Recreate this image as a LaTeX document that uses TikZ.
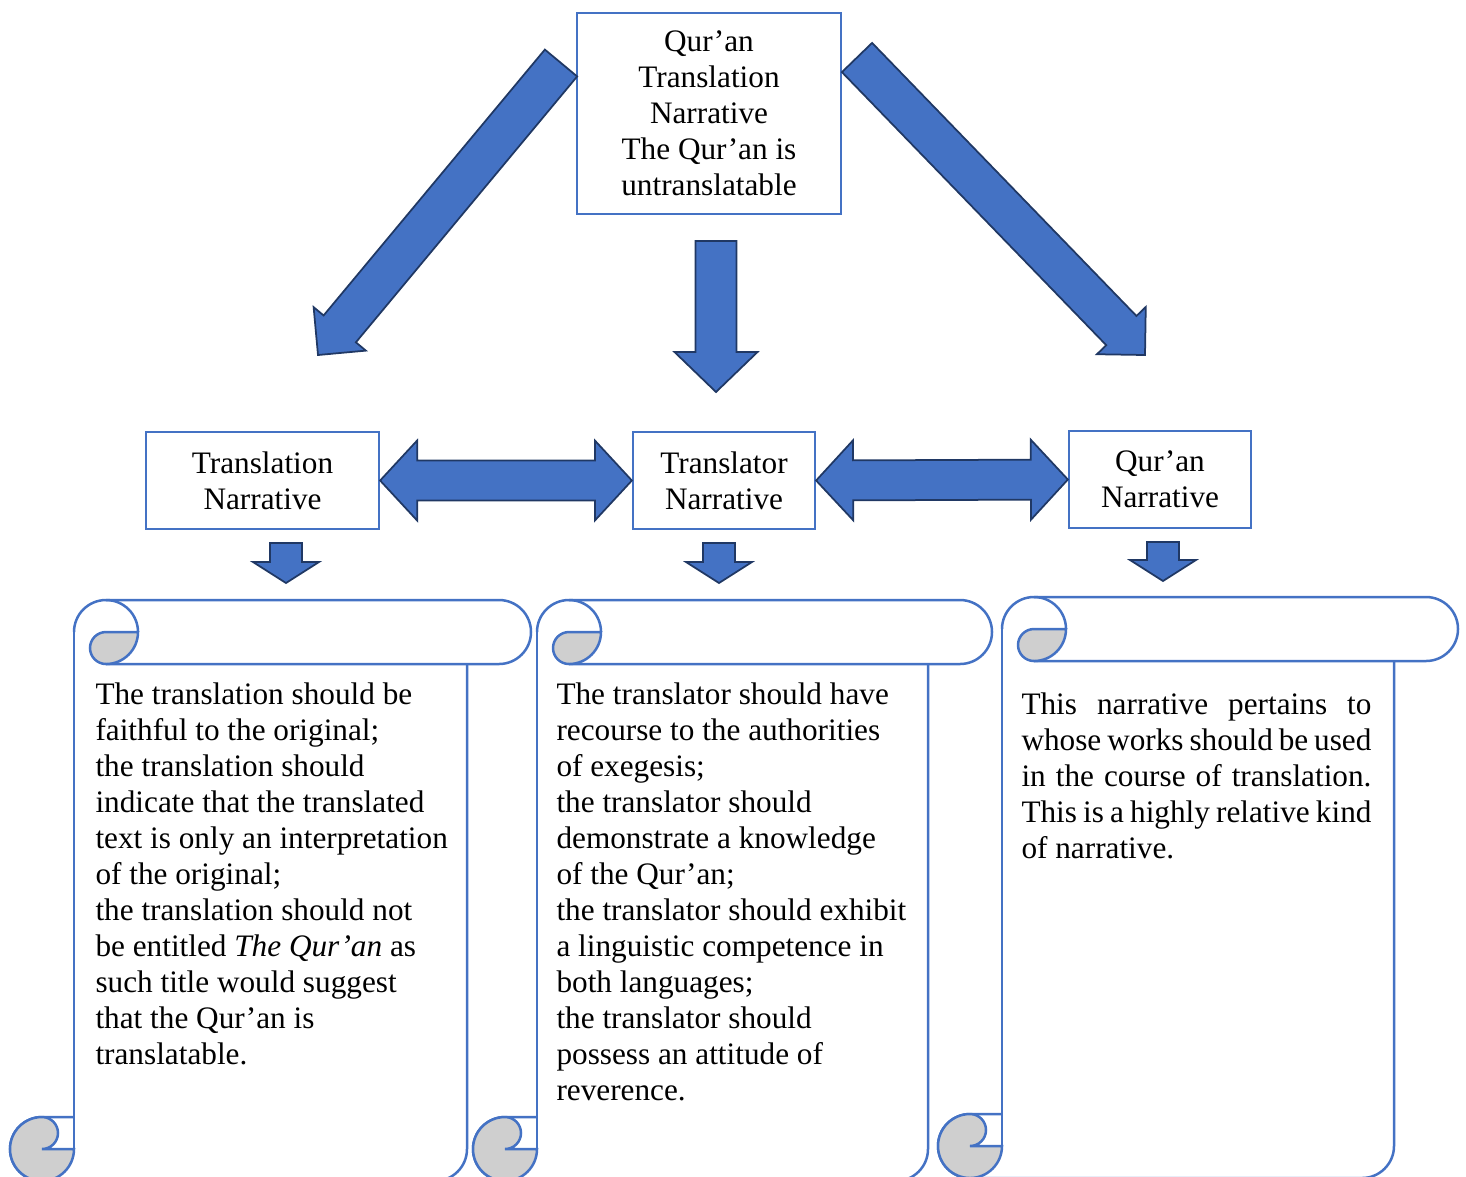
\documentclass[tikz,border=0pt]{standalone}
\usepackage{fontspec}
\setmainfont{Liberation Serif}
\usetikzlibrary{calc}

\definecolor{boxblue}{HTML}{4472C4}
\definecolor{arrowedge}{HTML}{203864}
\definecolor{rollgrey}{HTML}{CFCFCF}
\newcommand{\narrfont}{\fontsize{12.5}{14.4}\selectfont}

\tikzset{
  box/.style={draw=boxblue,line width=0.9pt,align=center,inner sep=0pt,font=\narrfont},
  barrow/.style={fill=boxblue,draw=arrowedge,line width=0.7pt,line join=miter},
  roll/.style={draw=boxblue,line width=1pt},
  rolltext/.style={anchor=north west,inner sep=0pt,align=left,font=\narrfont}
}

% block arrow: from, to, half shaft, half head, head length
\newcommand{\blockarrow}[5]{%
  \coordinate (ba-h) at ($(#2)!#5!(#1)$);
  \draw[barrow] ($(#1)!#3!90:(#2)$) -- ($(ba-h)!#3!90:(#2)$) -- ($(ba-h)!#4!90:(#2)$) -- (#2)
    -- ($(ba-h)!#4!-90:(#2)$) -- ($(ba-h)!#3!-90:(#2)$) -- ($(#1)!#3!-90:(#2)$) -- cycle;}
% double block arrow
\newcommand{\dblarrow}[5]{%
  \coordinate (da-a) at ($(#1)!#5!(#2)$);
  \coordinate (da-b) at ($(#2)!#5!(#1)$);
  \draw[barrow] (#1) -- ($(da-a)!#4!90:(#2)$) -- ($(da-a)!#3!90:(#2)$) -- ($(da-b)!#3!90:(#2)$)
    -- ($(da-b)!#4!90:(#2)$) -- (#2) -- ($(da-b)!#4!-90:(#2)$) -- ($(da-b)!#3!-90:(#2)$)
    -- ($(da-a)!#3!-90:(#2)$) -- ($(da-a)!#4!-90:(#2)$) -- cycle;}
% vertical scroll: left, right, top, bottom
\newcommand{\scrollshape}[4]{%
  \draw[roll] (#1+64,#3+32) arc[start angle=180,end angle=270,radius=32] -- (#2-32,#3)
    arc[start angle=-90,end angle=90,radius=32] -- (#1+96,#3+64);
  \draw[roll] (#1+96,#3) arc[start angle=-90,end angle=0,radius=32];
  \draw[roll] (#2-64,#3+64) -- (#2-64,#4-32) arc[start angle=0,end angle=90,radius=32]
    -- (#1+32,#4) arc[start angle=90,end angle=270,radius=32] -- (#1+64,#4-64);
  \draw[roll] (#1+64,#3+32) -- (#1+64,#4-32);
  \filldraw[roll,fill=rollgrey] (#1+96,#3+64) arc[start angle=90,end angle=270,radius=16]
    -- (#1+128,#3+32) arc[start angle=0,end angle=90,radius=32] -- cycle;
  \filldraw[roll,fill=rollgrey] (#1+64,#4-32) arc[start angle=0,end angle=270,radius=32]
    arc[start angle=-90,end angle=90,radius=16] -- cycle;}

\begin{document}
\begin{tikzpicture}[x=0.4pt,y=-0.4pt]
\clip (0,0) rectangle (1466,1176);

% narrative boxes
\node[box,minimum width=105.6pt,minimum height=80.4pt] (top) at (709,113.5)
  {Qur’an\\Translation\\Narrative\\The Qur’an is\\untranslatable};
\node[box,minimum width=93.2pt,minimum height=38.8pt] (tln) at (262.5,480.5) {Translation\\Narrative};
\node[box,minimum width=72.8pt,minimum height=38.8pt] (trn) at (724,480.5) {Translator\\Narrative};
\node[box,minimum width=72.8pt,minimum height=38.8pt] (qn) at (1160,479.5) {Qur’an\\Narrative};

% big arrows from the top box
\coordinate (lt) at (561,63);   \coordinate (lh) at (318,355);
\coordinate (ct) at (716,241);  \coordinate (ch) at (716,392);
\coordinate (rt) at (857,57.5); \coordinate (rh) at (1145,355);
\blockarrow{lt}{lh}{8.4pt}{13.6pt}{13.6pt}
\blockarrow{ct}{ch}{8.2pt}{16.6pt}{16pt}
\blockarrow{rt}{rh}{8.4pt}{13.6pt}{13.6pt}

% arrows between the boxes
\dblarrow{tln.east}{trn.west}{8pt}{16pt}{14.8pt}
\dblarrow{trn.east}{qn.west}{8pt}{16pt}{14.8pt}

% small arrows down to the scrolls
\coordinate (s1t) at (286,543);  \coordinate (s1h) at (286,583);
\coordinate (s2t) at (719,543);  \coordinate (s2h) at (719,583);
\coordinate (s3t) at (1163,542); \coordinate (s3h) at (1163,581);
\blockarrow{s1t}{s1h}{6.4pt}{13.2pt}{8.4pt}
\blockarrow{s2t}{s2h}{6.4pt}{13.2pt}{8.4pt}
\blockarrow{s3t}{s3h}{6.4pt}{13.2pt}{8.4pt}

% scrolls
\scrollshape{10}{531}{600}{1181}
\scrollshape{473}{992}{600}{1181}
\scrollshape{938}{1458}{597}{1178}

\node[rolltext] (txt1) at (95,682) {The translation should be\\faithful to the original;\\the translation should\\indicate that the translated\\text is only an interpretation\\of the original;\\the translation should not\\be entitled \textit{The Qur’an} as\\such title would suggest\\that the Qur’an is\\translatable.};
\node[rolltext] (txt2) at (556,682) {The translator should have\\recourse to the authorities\\of exegesis;\\the translator should\\demonstrate a knowledge\\of the Qur’an;\\the translator should exhibit\\a linguistic competence in\\both languages;\\the translator should\\possess an attitude of\\reverence.};
\node[rolltext,text width=140pt,align=justify] (txt3) at (1021,692) {This narrative pertains to\linebreak whose works should be used\linebreak in the course of translation.\linebreak This is a highly relative kind\linebreak of narrative.};
\end{tikzpicture}
\end{document}
